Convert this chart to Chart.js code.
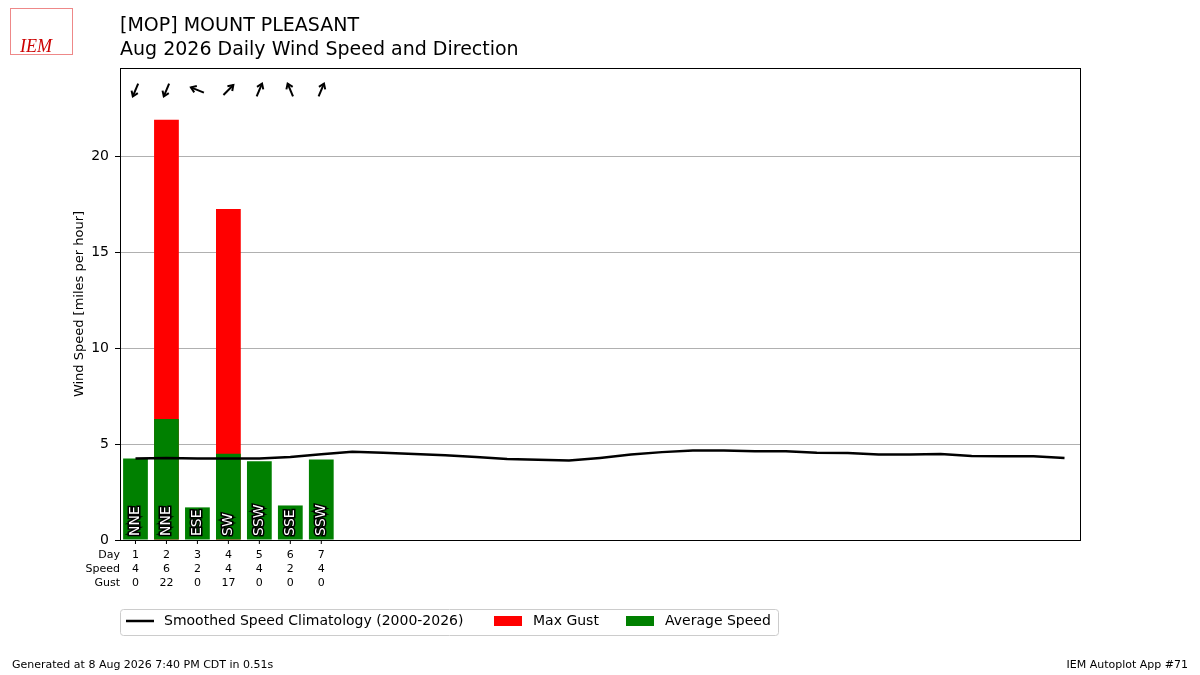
<!DOCTYPE html>
<html><head><meta charset="utf-8">
<script src="https://cdn.jsdelivr.net/npm/chart.js@4/dist/chart.umd.min.js"></script>
<style>body{margin:0;background:#fff}#wrap{width:1200px;height:675px;position:relative}</style>
</head><body><div id="wrap"><canvas id="c" width="1200" height="675"></canvas></div>
<script>
// --- Data ---
const days = Array.from({length: 31}, (_, i) => i + 1);
const avgSpeed = [4.25, 6.3, 1.7, 4.5, 4.1, 1.8, 4.2];
const maxGust = [0, 21.9, 0, 17.25, 0, 0, 0];
const speedLabels = [4, 6, 2, 4, 4, 2, 4];
const gustLabels = [0, 22, 0, 17, 0, 0, 0];
const dirLabels = ['NNE', 'NNE', 'ESE', 'SW', 'SSW', 'SSE', 'SSW'];
const dirDegrees = [22.5, 22.5, 112.5, 225, 202.5, 157.5, 202.5];
const climo = [4.25, 4.27, 4.25, 4.25, 4.25, 4.32, 4.47, 4.6, 4.55, 4.48, 4.42, 4.32, 4.22, 4.18, 4.14,
  4.28, 4.45, 4.58, 4.67, 4.67, 4.62, 4.63, 4.55, 4.53, 4.46, 4.46, 4.48, 4.38, 4.36, 4.36, 4.28];
const yTicks = [0, 5, 10, 15, 20];

const FONT = "'DejaVu Sans', sans-serif";
Chart.defaults.font.family = FONT;
Chart.defaults.color = '#000';

const extras = {
  id: 'extras',
  afterDatasetsDraw(chart) {
    const ctx = chart.ctx, x = chart.scales.x, y = chart.scales.y, a = chart.chartArea;
    ctx.save();
    // direction labels in bars
    ctx.font = '14px ' + FONT;
    ctx.textAlign = 'left'; ctx.textBaseline = 'middle';
    dirLabels.forEach((t, i) => {
      ctx.save();
      ctx.translate(x.getPixelForValue(days[i]), y.getPixelForValue(0) - 4);
      ctx.rotate(-Math.PI / 2);
      ctx.lineWidth = 3; ctx.strokeStyle = '#000'; ctx.strokeText(t, 0, 0);
      ctx.fillStyle = '#fff'; ctx.fillText(t, 0, 0);
      ctx.restore();
    });
    // wind arrows
    ctx.strokeStyle = '#000'; ctx.lineWidth = 2;
    dirDegrees.forEach((d, i) => {
      const cx = x.getPixelForValue(days[i]), cy = 90;
      const ang = (d + 180) * Math.PI / 180; // points where wind goes
      const dx = Math.sin(ang), dy = -Math.cos(ang), L = 7;
      const x1 = cx - dx * L, y1 = cy - dy * L, x2 = cx + dx * L, y2 = cy + dy * L;
      ctx.beginPath(); ctx.moveTo(x1, y1); ctx.lineTo(x2, y2); ctx.stroke();
      const h = 6, s = 0.6;
      const ba = Math.atan2(dy, dx);
      ctx.beginPath();
      ctx.moveTo(x2 - h * Math.cos(ba - s), y2 - h * Math.sin(ba - s));
      ctx.lineTo(x2, y2);
      ctx.lineTo(x2 - h * Math.cos(ba + s), y2 - h * Math.sin(ba + s));
      ctx.stroke();
    });
    // x tick marks and table
    ctx.lineWidth = 1; ctx.font = '11px ' + FONT; ctx.fillStyle = '#000';
    ctx.textAlign = 'center'; ctx.textBaseline = 'middle';
    avgSpeed.forEach((v, i) => {
      const px = x.getPixelForValue(days[i]);
      ctx.beginPath(); ctx.moveTo(px, a.bottom); ctx.lineTo(px, a.bottom + 4); ctx.stroke();
      ctx.fillText(String(days[i]), px, 555);
      ctx.fillText(String(speedLabels[i]), px, 569);
      ctx.fillText(String(gustLabels[i]), px, 583);
    });
    ctx.textAlign = 'right';
    ctx.fillText('Day', 120, 555); ctx.fillText('Speed', 120, 569); ctx.fillText('Gust', 120, 583);
    // y axis title
    ctx.save();
    ctx.translate(80, 304); ctx.rotate(-Math.PI / 2);
    ctx.textAlign = 'center'; ctx.font = '13px ' + FONT;
    ctx.fillText('Wind Speed [miles per hour]', 0, 0);
    ctx.restore();
    // legend
    ctx.strokeStyle = '#ccc'; ctx.lineWidth = 1;
    ctx.beginPath(); ctx.roundRect(120.5, 609.5, 658, 26, 3); ctx.stroke();
    ctx.font = '14px ' + FONT; ctx.textAlign = 'left';
    ctx.strokeStyle = '#000'; ctx.lineWidth = 2.5;
    ctx.beginPath(); ctx.moveTo(126, 621); ctx.lineTo(154, 621); ctx.stroke();
    ctx.fillText('Smoothed Speed Climatology (2000-2026)', 164, 621);
    ctx.fillStyle = '#f00'; ctx.fillRect(494, 616, 28, 10);
    ctx.fillStyle = '#000'; ctx.fillText('Max Gust', 533, 621);
    ctx.fillStyle = '#008000'; ctx.fillRect(626, 616, 28, 10);
    ctx.fillStyle = '#000'; ctx.fillText('Average Speed', 665, 621);
    // titles & footer
    ctx.font = '19px ' + FONT; ctx.textBaseline = 'alphabetic';
    ctx.fillText('[MOP] MOUNT PLEASANT', 120, 31);
    ctx.fillText('Aug 2026 Daily Wind Speed and Direction', 120, 55);
    ctx.font = '11px ' + FONT;
    ctx.fillText('Generated at 8 Aug 2026 7:40 PM CDT in 0.51s', 12, 668);
    ctx.textAlign = 'right';
    ctx.fillText('IEM Autoplot App #71', 1188, 668);
    // logo
    ctx.textAlign = 'left'; ctx.fillStyle = '#c00';
    ctx.font = 'italic 18px Liberation Serif, serif';
    ctx.fillText('IEM', 20, 52);
    ctx.strokeStyle = '#e88'; ctx.lineWidth = 1;
    ctx.strokeRect(10.5, 8.5, 62, 46);
    // frame
    ctx.strokeStyle = '#000'; ctx.lineWidth = 1;
    ctx.strokeRect(a.left + 0.5, a.top + 0.5, a.right - a.left, a.bottom - a.top);
    ctx.restore();
  }
};

new Chart(document.getElementById('c'), {
  data: {
    labels: days,
    datasets: [
      { type: 'line', label: 'Smoothed Speed Climatology (2000-2026)', data: climo.map((v, i) => ({x: days[i], y: v})),
        borderColor: '#000', borderWidth: 2.5, pointRadius: 0, order: 0 },
      { type: 'bar', label: 'Average Speed', data: avgSpeed.map((v, i) => ({x: days[i], y: v})),
        backgroundColor: '#008000', barPercentage: 0.8, categoryPercentage: 1, grouped: false, order: 1 },
      { type: 'bar', label: 'Max Gust', data: maxGust.map((v, i) => ({x: days[i], y: v})),
        backgroundColor: '#f00', barPercentage: 0.8, categoryPercentage: 1, grouped: false, order: 2 }
    ]
  },
  options: {
    responsive: false, animation: false,
    layout: { padding: { left: 0, right: 120, top: 68, bottom: 135 } },
    plugins: { legend: { display: false }, tooltip: { enabled: false } },
    scales: {
      x: { type: 'linear', min: 0.5, max: 31.5, offset: false,
        ticks: { display: false }, grid: { display: false }, border: { display: false },
        afterFit: s => { s.height = 0; } },
      y: { min: 0, max: 24.6,
        afterBuildTicks: s => { s.ticks = yTicks.map(v => ({value: v})); },
        afterFit: s => { s.width = 120; },
        ticks: { font: { size: 14 }, padding: 6 },
        grid: { color: '#b0b0b0', tickLength: 5, tickColor: '#000', drawTicks: true },
        border: { display: false } }
    }
  },
  plugins: [extras]
});
</script></body></html>
